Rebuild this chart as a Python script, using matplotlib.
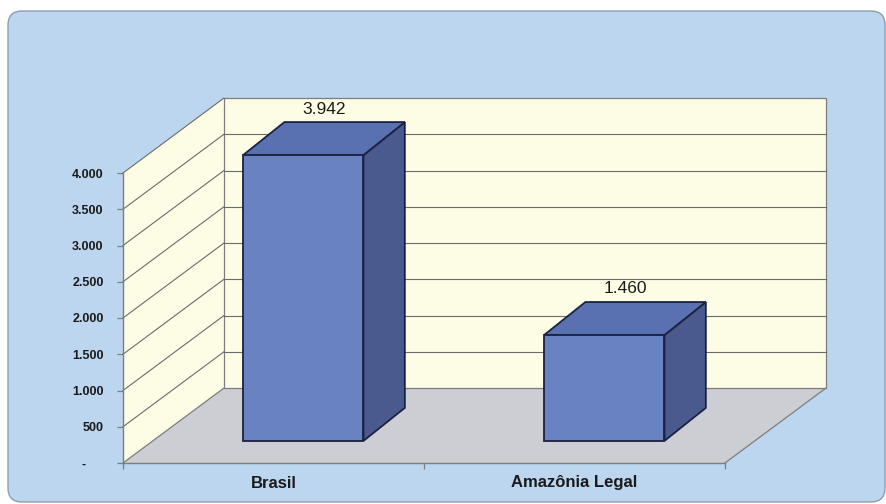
import matplotlib
matplotlib.use("Agg")
import matplotlib.pyplot as plt
from matplotlib.patches import FancyBboxPatch, Polygon
from matplotlib.ticker import FixedLocator, FuncFormatter

plt.rcParams["font.family"] = ["Liberation Sans", "DejaVu Sans"]

# Data
categories = ["Brasil", "Amazônia Legal"]
values = [3942, 1460]
value_labels = ["3.942", "1.460"]
y_ticks = [0, 500, 1000, 1500, 2000, 2500, 3000, 3500, 4000]

# Styling
BG_BLUE = "#bdd6ef"
WALL = "#fdfde6"
FLOOR = "#cdced3"
GRID = "#6b6b6b"
AXIS = "#7d7d7d"
BAR_FRONT = "#6882c2"
BAR_TOP = "#5a71b1"
BAR_SIDE = "#4a5a8f"
BAR_EDGE = "#1b2140"

W, H = 887, 504
fig = plt.figure(figsize=(W / 100, H / 100), dpi=100)
fig.patch.set_facecolor("white")

# Rounded panel behind the chart
bg = fig.add_axes([0, 0, 1, 1], zorder=0)
bg.set_xlim(0, W)
bg.set_ylim(H, 0)
bg.axis("off")
bg.add_patch(FancyBboxPatch((8, 11), 877, 491,
                            boxstyle="round,pad=0,rounding_size=14",
                            facecolor=BG_BLUE, edgecolor="#8d9cad", lw=1.0))

# Front plane of the 3D box
ax = fig.add_axes([123 / W, (H - 463) / H, 602 / W, 290 / H], zorder=1)
ax.set_facecolor("none")
ymax = y_ticks[-1]
ax.set_xlim(0, len(categories))
ax.set_ylim(0, ymax)

# Depth offset (in data units) for the perspective
DX = 101 / (602 / len(categories))
DY = 75 / (290 / ymax)
NC = len(categories)

def poly(pts, fc, ec="none", lw=0.0, z=1):
    ax.add_patch(Polygon(pts, closed=True, facecolor=fc, edgecolor=ec,
                         lw=lw, zorder=z, clip_on=False, joinstyle="miter"))

# Walls and floor
poly([(0, 0), (0, ymax), (DX, ymax + DY), (DX, DY)], WALL, z=1)
poly([(0, 0), (NC, 0), (NC + DX, DY), (DX, DY)], FLOOR, z=1)
poly([(DX, DY), (NC + DX, DY), (NC + DX, ymax + DY), (DX, ymax + DY)],
     WALL, ec=AXIS, lw=0.9, z=1)
ax.plot([0, DX], [0, DY], color=AXIS, lw=0.9, clip_on=False, zorder=2)
ax.plot([NC, NC + DX], [0, DY], color=AXIS, lw=0.9, clip_on=False, zorder=2)

# Gridlines on side and back walls
for v in y_ticks[1:]:
    ax.plot([0, DX], [v, v + DY], color=GRID, lw=0.8, clip_on=False, zorder=2)
    if v < ymax:
        ax.plot([DX, NC + DX], [v + DY, v + DY], color=GRID, lw=0.8,
                clip_on=False, zorder=2)

# Bars
f0, f1 = 0.295, 0.735
bw = 0.4
for i, (v, lab) in enumerate(zip(values, value_labels)):
    x0 = i + 0.5 - bw / 2
    x1 = i + 0.5 + bw / 2
    a0x, a0y = f0 * DX, f0 * DY
    a1x, a1y = f0 * DX + 0.93 * (f1 - f0) * DX, f1 * DY
    poly([(x1 + a0x, a0y), (x1 + a1x, a1y), (x1 + a1x, v + a1y), (x1 + a0x, v + a0y)],
         BAR_SIDE, BAR_EDGE, 1.3, z=3)
    poly([(x0 + a0x, v + a0y), (x1 + a0x, v + a0y), (x1 + a1x, v + a1y), (x0 + a1x, v + a1y)],
         BAR_TOP, BAR_EDGE, 1.3, z=3)
    poly([(x0 + a0x, a0y), (x1 + a0x, a0y), (x1 + a0x, v + a0y), (x0 + a0x, v + a0y)],
         BAR_FRONT, BAR_EDGE, 1.3, z=4)
    ax.annotate(lab, xy=(i + 0.5 + (a0x + a1x) / 2, v + f1 * DY), xytext=(0, 4),
                textcoords="offset points", ha="center", va="bottom",
                fontsize=12.5, color="#1a1a1a", zorder=5, annotation_clip=False)

# Axes styling
for s in ["top", "right"]:
    ax.spines[s].set_visible(False)
for s in ["left", "bottom"]:
    ax.spines[s].set_color(AXIS)
    ax.spines[s].set_linewidth(1.0)
    ax.spines[s].set_zorder(2.5)

def fmt(v, pos):
    if v == 0:
        return "-     "
    return f"{v:,.0f}".replace(",", ".")

ax.yaxis.set_major_locator(FixedLocator(y_ticks))
ax.yaxis.set_major_formatter(FuncFormatter(fmt))
ax.tick_params(axis="y", direction="out", length=4, width=0.9, color=AXIS,
               pad=10, labelsize=9, labelcolor="#1a1a1a")
for t in ax.get_yticklabels():
    t.set_fontweight("bold")

ax.xaxis.set_major_locator(FixedLocator(list(range(NC + 1))))
ax.xaxis.set_major_formatter(FuncFormatter(lambda v, p: ""))
ax.xaxis.set_minor_locator(FixedLocator([i + 0.5 for i in range(NC)]))
ax.xaxis.set_minor_formatter(FuncFormatter(lambda v, p: categories[int(v)]))
ax.tick_params(axis="x", which="major", direction="out", length=4, width=0.9, color=AXIS)
ax.tick_params(axis="x", which="minor", length=0, pad=9, labelsize=12,
               labelcolor="#1a1a1a")
for t in ax.get_xticklabels(minor=True):
    t.set_fontweight("bold")

fig.savefig("out.png", dpi=100)
